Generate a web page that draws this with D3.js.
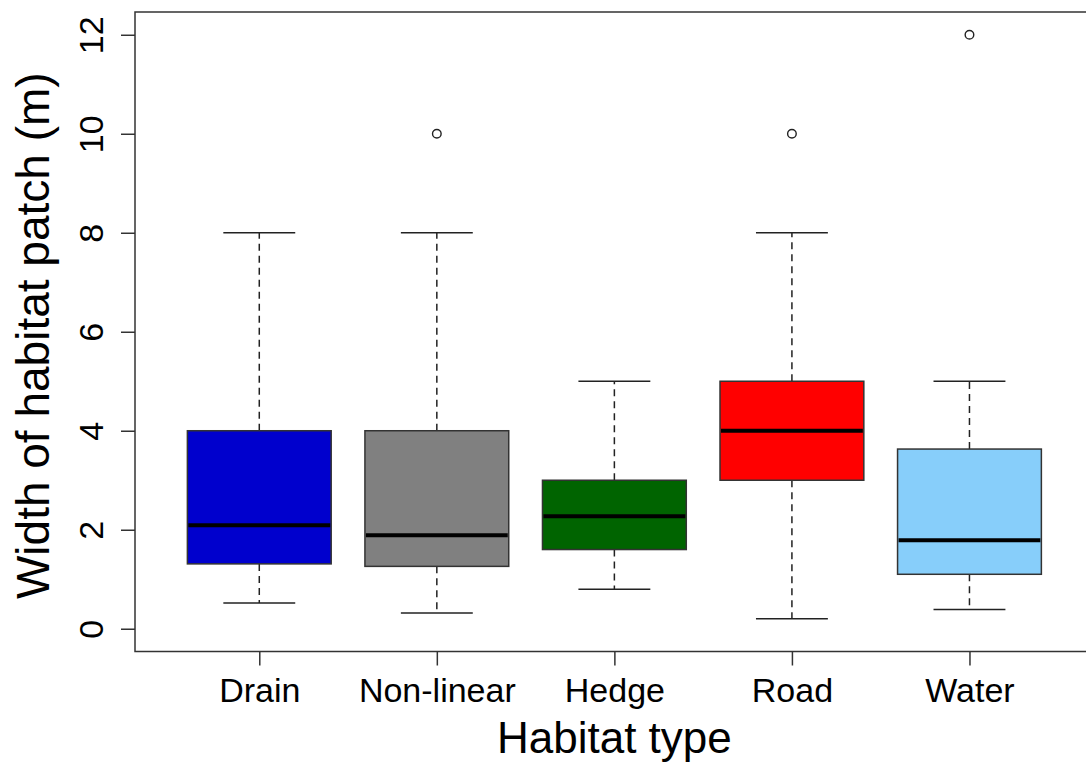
<!DOCTYPE html>
<html>
<head>
<meta charset="utf-8">
<script src="https://cdn.jsdelivr.net/npm/d3@7"></script>
<style>
  html, body { margin: 0; padding: 0; background: #fff; }
  svg { display: block; font-family: "Liberation Sans", Arial, sans-serif; }
</style>
</head>
<body>
<svg id="chart" width="1086" height="764"></svg>
<script>
// ---- data ----
const categories = ["Drain", "Non-linear", "Hedge", "Road", "Water"];
const whiskerLow  = [0.52, 0.32, 0.80, 0.20, 0.39];
const q1          = [1.31, 1.26, 1.60, 3.00, 1.10];
const medians     = [2.09, 1.89, 2.27, 4.00, 1.79];
const q3          = [4.00, 4.00, 3.00, 5.00, 3.63];
const whiskerHigh = [8.00, 8.00, 5.00, 8.00, 5.00];
const outlierCats   = ["Non-linear", "Road", "Water"];
const outlierValues = [10, 10, 12];
const boxColors = ["#0000CD", "#808080", "#006400", "#FF0000", "#87CEFA"];
const yTicks = [0, 2, 4, 6, 8, 10, 12];
const xTitle = "Habitat type";
const yTitle = "Width of habitat patch (m)";

// ---- layout ----
const svg = d3.select("#chart");
const pL = 135, pR = 1093.75, pT = 12, pB = 651.5;

const x = d3.scaleLinear().domain([0.3, 5.7]).range([pL, pR]);
const y = d3.scaleLinear().domain([-0.46, 12.46]).range([pB, pT]);
const halfW = 0.405;
const capHalf = halfW / 2;

const boxes = categories.map((c, i) => ({
  cat: c, pos: i + 1, lo: whiskerLow[i], q1: q1[i], med: medians[i],
  q3: q3[i], hi: whiskerHigh[i], color: boxColors[i]
}));

const g = svg.append("g");

// whiskers (dashed)
g.selectAll("line.wup").data(boxes).join("line")
  .attr("class", "wup")
  .attr("x1", d => x(d.pos)).attr("x2", d => x(d.pos))
  .attr("y1", d => y(d.q3)).attr("y2", d => y(d.hi))
  .attr("stroke", "#222").attr("stroke-width", 1.5).attr("stroke-dasharray", "7,5");
g.selectAll("line.wdn").data(boxes).join("line")
  .attr("class", "wdn")
  .attr("x1", d => x(d.pos)).attr("x2", d => x(d.pos))
  .attr("y1", d => y(d.q1)).attr("y2", d => y(d.lo))
  .attr("stroke", "#222").attr("stroke-width", 1.5).attr("stroke-dasharray", "7,5");

// caps
["hi", "lo"].forEach(k => {
  g.selectAll("line.cap" + k).data(boxes).join("line")
    .attr("class", "cap" + k)
    .attr("x1", d => x(d.pos - capHalf)).attr("x2", d => x(d.pos + capHalf))
    .attr("y1", d => y(d[k])).attr("y2", d => y(d[k]))
    .attr("stroke", "#222").attr("stroke-width", 1.5);
});

// boxes
g.selectAll("rect.box").data(boxes).join("rect")
  .attr("class", "box")
  .attr("x", d => x(d.pos - halfW))
  .attr("width", d => x(d.pos + halfW) - x(d.pos - halfW))
  .attr("y", d => y(d.q3))
  .attr("height", d => y(d.q1) - y(d.q3))
  .attr("fill", d => d.color)
  .attr("stroke", "#333").attr("stroke-width", 1.5);

// medians
g.selectAll("line.med").data(boxes).join("line")
  .attr("class", "med")
  .attr("x1", d => x(d.pos - halfW) + 1).attr("x2", d => x(d.pos + halfW) - 1)
  .attr("y1", d => y(d.med)).attr("y2", d => y(d.med))
  .attr("stroke", "#000").attr("stroke-width", 4);

// outliers
const outs = outlierCats.map((c, i) => ({ pos: categories.indexOf(c) + 1, v: outlierValues[i] }));
g.selectAll("circle.out").data(outs).join("circle")
  .attr("class", "out")
  .attr("cx", d => x(d.pos)).attr("cy", d => y(d.v)).attr("r", 4.3)
  .attr("fill", "none").attr("stroke", "#222").attr("stroke-width", 1.4);

// plot frame
svg.append("rect")
  .attr("x", pL).attr("y", pT)
  .attr("width", pR - pL).attr("height", pB - pT)
  .attr("fill", "none").attr("stroke", "#333").attr("stroke-width", 1.5);

// y axis
const yAxis = svg.append("g")
  .attr("transform", `translate(${pL},0)`)
  .call(d3.axisLeft(y).tickValues(yTicks).tickSize(14).tickSizeOuter(0).tickFormat(d3.format("d")));
yAxis.select(".domain").remove();
yAxis.selectAll(".tick line").attr("stroke", "#333").attr("stroke-width", 1.5);
yAxis.selectAll(".tick text")
  .attr("font-size", 34).attr("fill", "#000")
  .attr("font-family", "Liberation Sans, Arial, sans-serif")
  .attr("x", 0).attr("dy", 0)
  .attr("text-anchor", "middle")
  .attr("transform", "translate(-32,0) rotate(-90)");

// x axis
const xAxis = svg.append("g")
  .attr("transform", `translate(0,${pB})`)
  .call(d3.axisBottom(x).tickValues(boxes.map(d => d.pos)).tickSize(14).tickSizeOuter(0)
    .tickFormat((d, i) => categories[i]));
xAxis.select(".domain").remove();
xAxis.selectAll(".tick line").attr("stroke", "#333").attr("stroke-width", 1.5);
xAxis.selectAll(".tick text")
  .attr("font-size", 34).attr("fill", "#000")
  .attr("font-family", "Liberation Sans, Arial, sans-serif")
  .attr("y", 50).attr("dy", 0);

// titles
svg.append("text")
  .attr("x", (pL + pR) / 2).attr("y", 753)
  .attr("text-anchor", "middle").attr("font-size", 44).attr("fill", "#000")
  .text(xTitle);
svg.append("text")
  .attr("transform", `translate(49,${(pT + pB) / 2 + 4}) rotate(-90)`)
  .attr("text-anchor", "middle").attr("font-size", 46).attr("fill", "#000")
  .text(yTitle);
</script>
</body>
</html>
